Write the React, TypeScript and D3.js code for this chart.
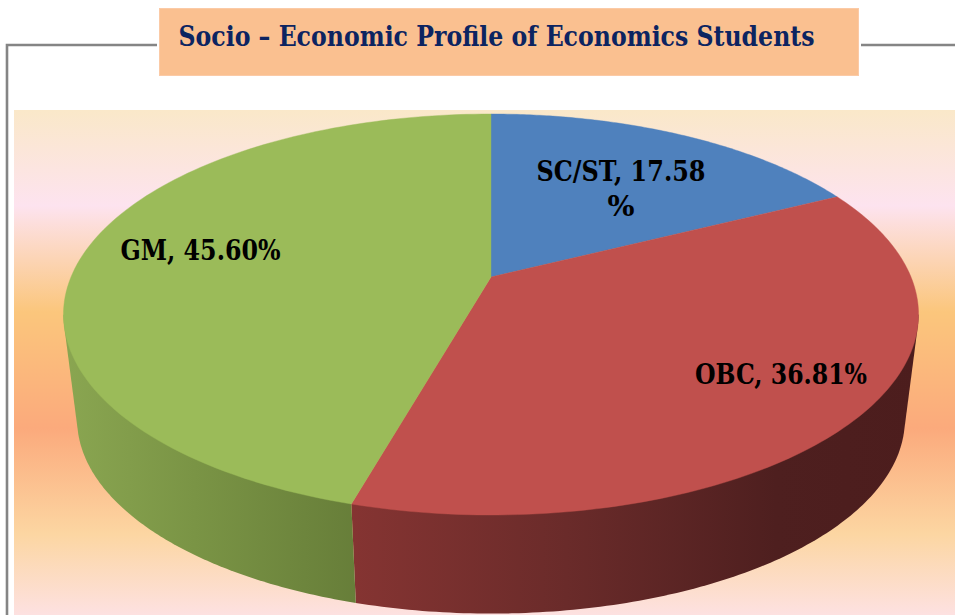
import React from "react";
import * as d3 from "d3";

const categories = ["SC/ST", "OBC", "GM"];
const shares = [17.58, 36.81, 45.6];
const topColors = ["#4f81bd", "#c0504d", "#9bbb59"];
const wallStops = [
  [],
  [[0, "#853432"], [0.38, "#6a2b2a"], [0.75, "#4e1f1f"], [1, "#4c1d1d"]],
  [[0, "#8aa651"], [0.45, "#7a9445"], [1, "#677e39"]],
] as [number, string][][];
const wallRanges = [[0, 0], [352, 918], [63, 356]];
const titleText = "Socio – Economic Profile of Economics Students";
const labelLines = [
  [{ text: "SC/ST, 17.58", x: 536.5, y: 181, w: 169 }, { text: "%", x: 607.5, y: 216, w: 27 }],
  [{ text: "OBC, 36.81%", x: 695, y: 384, w: 172 }],
  [{ text: "GM, 45.60%", x: 120.5, y: 260, w: 160 }],
];
const bgStops: [number, string][] = [
  [0, "#fae8c9"], [0.19, "#fde3ef"], [0.4, "#fbc67c"], [0.63, "#fbaa7c"], [0.84, "#fcd6a2"], [1, "#fde1e1"],
];

const FONT = "'DejaVu Serif', serif";
// Perspective of the pie's top face: pivot (px, py), near edge enlarged by persp.
const px = 491, py = 277, spanX = 420, spanY = 141.7, persp = -0.187;
const ellipseCY = 314.5, wallDrop = 105, wallScale = 0.968;

const top = (a: number): [number, number] => {
  const u = Math.sin(a), v = -Math.cos(a), w = 1 + persp * v;
  return [px + (spanX * u) / w, (spanY * v + py) / w];
};
const bottom = (a: number): [number, number] => {
  const [x, y] = top(a);
  return [px + (x - px) * wallScale, ellipseCY + wallDrop + (y - ellipseCY) * wallScale];
};

const slices = d3.pie<number>().sort(null).value((d) => d)(shares);
const line = d3.line();
const frontStart = Math.acos(persp);
const frontEnd = 2 * Math.PI - frontStart;

function samples(a0: number, a1: number) {
  return d3.range(0, 121).map((i) => d3.interpolateNumber(a0, a1)(i / 120));
}

export default function App() {
  return (
    <svg width={955} height={615} style={{ position: "fixed", left: 0, top: 0 }}>
      <defs>
        <linearGradient id="bg" x1="0" y1="0" x2="0" y2="1">
          {bgStops.map(([o, c], i) => <stop key={i} offset={o} stopColor={c} />)}
        </linearGradient>
        {slices.map((_, i) => (
          <linearGradient key={i} id={`wall${i}`} gradientUnits="userSpaceOnUse"
            x1={wallRanges[i][0]} x2={wallRanges[i][1]} y1={0} y2={0}>
            {wallStops[i].map(([o, c], j) => <stop key={j} offset={o} stopColor={c} />)}
          </linearGradient>
        ))}
      </defs>
      <rect width={955} height={615} fill="#fff" />
      <rect x={14} y={110} width={941} height={505} fill="url(#bg)" />
      <path d="M157 45H7V615" fill="none" stroke="#858585" strokeWidth={2.6} />
      <path d="M861 45H955" fill="none" stroke="#858585" strokeWidth={2.6} />
      <rect x={159.5} y={8.5} width={699} height={67} fill="#fac090" stroke="#fbcaa6" strokeWidth={1} />
      <text x={178.5} y={46} fontFamily={FONT} fontWeight={700} fontSize={27} fill="#0c2461"
        textLength={636} lengthAdjust="spacingAndGlyphs">{titleText}</text>

      {slices.map((s, i) => {
        const a0 = Math.max(s.startAngle, frontStart), a1 = Math.min(s.endAngle, frontEnd);
        if (a1 <= a0) return null;
        const as = samples(a0, a1);
        const hull = d3.polygonHull([...as.map(top), ...as.map(bottom)])!;
        return <path key={categories[i]} d={line(hull) + "Z"} fill={`url(#wall${i})`} />;
      })}
      {slices.map((s, i) => {
        const pts = samples(s.startAngle, s.endAngle).map(top);
        const d = line([[px, py], ...pts]) + "Z";
        return <path key={categories[i]} d={d} fill={topColors[i]} stroke={topColors[i]} strokeWidth={0.4} />;
      })}
      {labelLines.flat().map((l, i) => (
        <text key={i} x={l.x} y={l.y} fontFamily={FONT} fontWeight={700} fontSize={27} fill="#000"
          textLength={l.w} lengthAdjust="spacingAndGlyphs">{l.text}</text>
      ))}
    </svg>
  );
}
